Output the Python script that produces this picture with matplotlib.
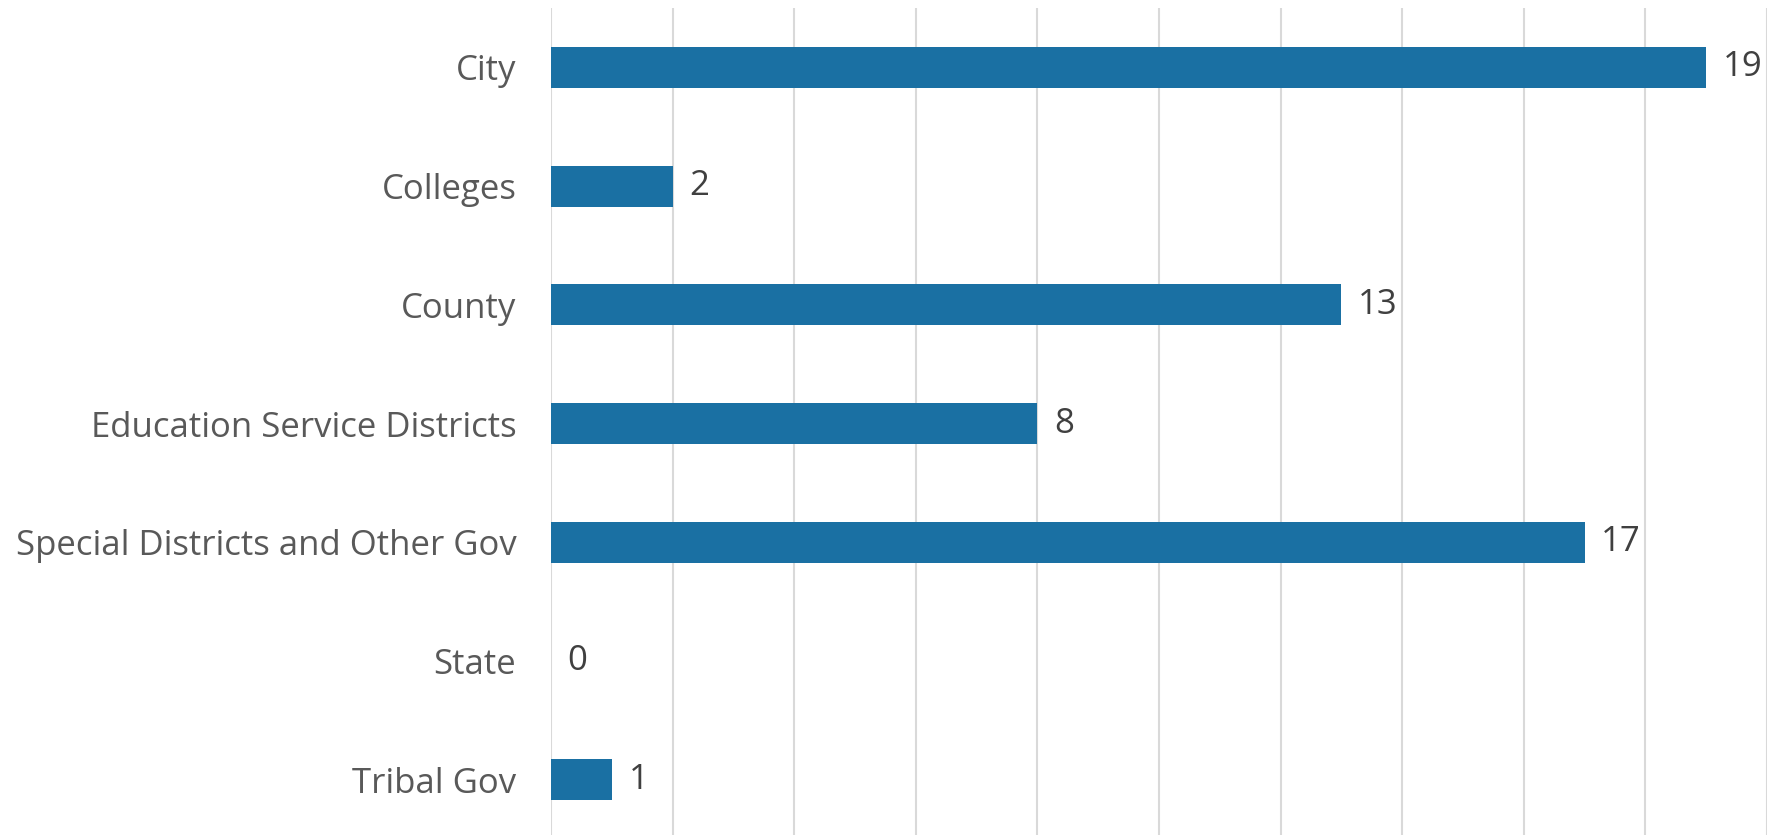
import matplotlib
matplotlib.use("Agg")
import matplotlib.pyplot as plt

categories = ["City", "Colleges", "County", "Education Service Districts",
              "Special Districts and Other Gov", "State", "Tribal Gov"]
values = [19, 2, 13, 8, 17, 0, 1]
x_ticks = [0, 2, 4, 6, 8, 10, 12, 14, 16, 18, 20]

W, H = 1767, 835
fig = plt.figure(figsize=(W / 100, H / 100), dpi=100)
left = 551 / W
top = 1 - 8 / H
ax = fig.add_axes([left, 0, 1 - left, top])

bar_color = "#1a70a3"
ypos = list(range(len(categories)))
ax.barh(ypos, values, height=0.345, color=bar_color, linewidth=0, zorder=3)

ax.set_xlim(0, (W - 551) / 61)
ax.set_ylim(-0.5 + 827 / 118.75, -0.5)
ax.set_xticks(x_ticks)
ax.xaxis.grid(True, color="#d9d9d9", linewidth=1.5, zorder=0)
ax.set_axisbelow(True)
ax.tick_params(axis="x", length=0, labelbottom=False)
ax.tick_params(axis="y", length=0, pad=25)
ax.set_yticks(ypos)
ax.set_yticklabels(categories, fontsize=25, color="#595959", family="Open Sans")
for s in ax.spines.values():
    s.set_visible(False)

for y, v in zip(ypos, values):
    ax.annotate(str(v), xy=(v, y), xytext=(12, 0), textcoords="offset points",
                va="center", ha="left", fontsize=25, color="#404040",
                family="Open Sans")

fig.savefig("out.png", dpi=100)
